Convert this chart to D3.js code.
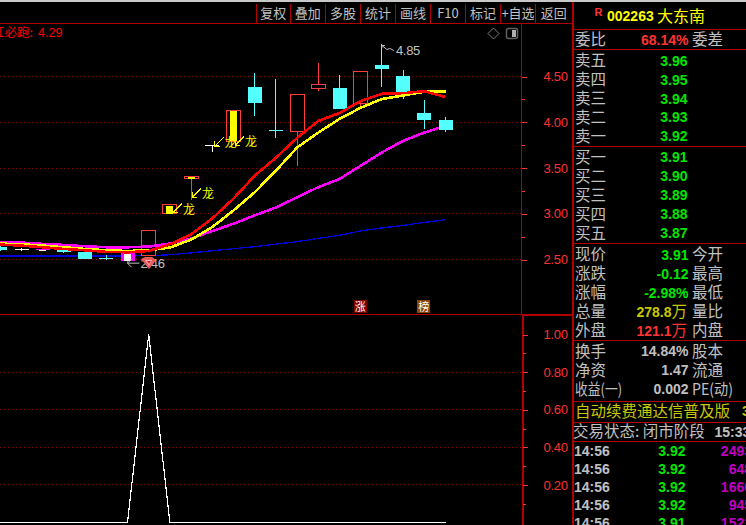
<!DOCTYPE html>
<html>
<head>
<meta charset="utf-8">
<script src="https://cdn.jsdelivr.net/npm/d3@7"></script>
<style>
html, body { margin: 0; padding: 0; background: #000; overflow: hidden; }
svg { display: block; }
text { font-family: "Noto Sans CJK SC", sans-serif; }
.num { font-family: "Liberation Sans", sans-serif; }
</style>
</head>
<body>
<div id="chart"></div>
<script>
var width = 746;
var height = 525;

// candles
var opens  = [2.64,2.61,2.61,2.61,2.58,2.52,2.57,2.54,3.00,3.38,3.75,3.79,4.38,3.92,3.90,4.37,4.37,4.20,4.63,4.51,4.10,4.03];
var closes = [2.60,2.61,2.61,2.58,2.51,2.52,2.48,2.82,3.10,3.41,3.75,4.13,4.21,3.92,4.30,4.41,4.15,4.55,4.58,4.33,4.03,3.91];
var highs  = [2.65,2.63,2.61,2.61,2.58,2.55,2.57,2.82,3.10,3.41,3.75,4.13,4.54,4.47,4.30,4.65,4.52,4.55,4.85,4.57,4.24,4.06];
var lows   = [2.59,2.59,2.61,2.57,2.51,2.50,2.46,2.54,3.00,3.15,3.68,3.79,4.07,3.83,3.52,4.34,4.14,4.15,4.39,4.25,3.93,3.89];
var kinds  = ["down","white","signalDown","down","down","down","signalDown","up","signalUp","signalUp","white","signalUp","down","down","up","up","down","up","down","down","down","down"];

// moving averages
var maRed     = [2.663,2.652,2.634,2.615,2.601,2.583,2.579,2.593,2.666,2.775,2.949,3.166,3.416,3.612,3.829,4.014,4.101,4.232,4.311,4.318,4.340,4.275];
var maYellow  = [2.674,2.666,2.652,2.634,2.615,2.601,2.593,2.601,2.630,2.717,2.854,3.036,3.235,3.470,3.724,3.887,4.036,4.159,4.253,4.293,4.333,4.333];
var maMagenta = [2.688,2.685,2.670,2.659,2.645,2.634,2.634,2.641,2.674,2.728,2.811,2.891,2.982,3.068,3.180,3.290,3.380,3.525,3.670,3.797,3.887,3.960];
var maBlue    = [2.539,2.539,2.539,2.539,2.539,2.539,2.539,2.541,2.552,2.572,2.596,2.618,2.640,2.668,2.695,2.731,2.764,2.813,2.845,2.873,2.905,2.935];

// lower indicator
var signal = [0,0,0,0,0,0,0,1,0,0,0,0,0,0,0,0,0,0,0,0,0,0];

var priceTicks = [2.5,3.0,3.5,4.0,4.5];
var priceMinor = [2.75,3.25,3.75,4.25];
var signalTicks = [0.2,0.4,0.6,0.8,1.0];
var signalMinor = [0.1,0.3,0.5,0.7,0.9];
var signalGrid = [0.2,0.4,0.6,0.8];

var toolLabels = ["复权","叠加","多股","统计","画线","F10","标记","+自选","返回"];
var toolEdges = [256.5,290,325.5,360.5,395.5,430.5,465.5,500.5,535.5,572];

var askLabels = ["卖五","卖四","卖三","卖二","卖一"];
var askPrices = ["3.96","3.95","3.94","3.93","3.92"];
var bidLabels = ["买一","买二","买三","买四","买五"];
var bidPrices = ["3.91","3.90","3.89","3.88","3.87"];
var quoteLabels = ["现价","涨跌","涨幅","总量","外盘"];
var quoteValues = ["3.91","-0.12","-2.98%","278.8","121.1"];
var quoteRight = ["今开","最高","最低","量比","内盘"];
var statLabels = ["换手","净资","收益(一)"];
var statValues = ["14.84%","1.47","0.002"];
var statRight = ["股本","流通","PE(动)"];
var tickTimes = ["14:56","14:56","14:56","14:56","14:56"];
var tickPrices = ["3.92","3.92","3.92","3.92","3.91"];
var tickVols = ["2493","648","1660","945","1521"];

var RED = "#ff3232";
var LINE = "#b00000";
var GREY = "#c0c0c0";
var GREEN = "#00e600";

var svg = d3.select("#chart").append("svg")
  .attr("width", width)
  .attr("height", height)
  .style("background", "#000");

var xScale = d3.scaleLinear().domain([0, 21]).range([0.3, 445.5]);
var yPrice = d3.scaleLinear().domain([2.5, 4.5]).range([259.5, 76.5]);
var ySignal = d3.scaleLinear().domain([0, 1]).range([522.5, 334.5]);

var crisp = svg.append("g").attr("shape-rendering", "crispEdges");

// frame
function hline(x1, x2, y, w, c) {
  crisp.append("line").attr("x1", x1).attr("x2", x2).attr("y1", y).attr("y2", y)
    .attr("stroke", c || LINE).attr("stroke-width", w || 1);
}
function vline(x, y1, y2, w, c) {
  crisp.append("line").attr("x1", x).attr("x2", x).attr("y1", y1).attr("y2", y2)
    .attr("stroke", c || LINE).attr("stroke-width", w || 1);
}
crisp.append("rect").attr("width", width).attr("height", 2).attr("fill", "#c8c8c8");
hline(0, 573, 23.5);
hline(0, 522, 314.5);
hline(522, 573, 314.5, 2);
vline(521.5, 23, 314);
vline(522.5, 314, 525, 2);
vline(573, 2, 525, 2);
[29.5, 49.5, 146.5, 243.5, 340.5, 401.5, 422.5, 441.5].forEach(function(y) {
  hline(573, 746, y);
});

// toolbar
toolEdges.forEach(function(x) { vline(x, 4, 23); });
svg.append("g").selectAll("text").data(toolLabels).join("text")
  .attr("x", (d, i) => (toolEdges[i] + toolEdges[i + 1]) / 2)
  .attr("y", 18)
  .attr("text-anchor", "middle")
  .attr("font-size", 13)
  .attr("fill", GREY)
  .text(d => d);

// grid
crisp.append("g").selectAll("line").data(priceTicks).join("line")
  .attr("x1", 0).attr("x2", 521)
  .attr("y1", d => yPrice(d)).attr("y2", d => yPrice(d))
  .attr("stroke", "#900000").attr("stroke-dasharray", "1 3");
crisp.append("g").selectAll("line").data(signalGrid).join("line")
  .attr("x1", 0).attr("x2", 522)
  .attr("y1", d => ySignal(d)).attr("y2", d => ySignal(d))
  .attr("stroke", "#900000").attr("stroke-dasharray", "1 3");

// axes
function drawAxis(scale, ticks, minor, x, pad) {
  var major = svg.append("g")
    .attr("transform", "translate(" + x + ",0)")
    .call(d3.axisRight(scale).tickValues(ticks).tickSize(5).tickPadding(pad).tickFormat(d3.format(".2f")));
  major.select(".domain").remove();
  major.selectAll("line").attr("stroke", RED).attr("shape-rendering", "crispEdges");
  major.selectAll("text").attr("class", "num").attr("fill", RED).attr("font-size", 13)
    .style("font-family", '"Liberation Sans", sans-serif')
    .attr("letter-spacing", "-0.3");
  var small = svg.append("g")
    .attr("transform", "translate(" + x + ",0)")
    .call(d3.axisRight(scale).tickValues(minor).tickSize(3).tickFormat(""));
  small.select(".domain").remove();
  small.selectAll("line").attr("stroke", RED).attr("shape-rendering", "crispEdges");
}
drawAxis(yPrice, priceTicks, priceMinor, 522, 16.5);
drawAxis(ySignal, signalTicks, signalMinor, 523, 15.5);

// lines under the candles
var lineGen = d3.line().x((d, i) => xScale(i)).y(d => yPrice(d));
crisp.append("path").attr("d", lineGen(maBlue)).attr("fill", "none").attr("stroke", "#0000d8").attr("stroke-width", 1.3);
crisp.append("path").attr("d", lineGen(maMagenta)).attr("fill", "none").attr("stroke", "#ff00ff").attr("stroke-width", 2.6);

// candles
var bars = d3.range(opens.length);
var wickColor = {down: "#54ffff", up: "#ff3c3c", signalUp: "#ff3c3c", signalDown: "#ff00ff", white: "#ffffff"};
var candles = crisp.append("g").selectAll("g").data(bars).join("g");
candles.append("line")
  .attr("x1", i => xScale(i)).attr("x2", i => xScale(i))
  .attr("y1", i => yPrice(highs[i]))
  .attr("y2", i => yPrice(Math.max(opens[i], closes[i])))
  .attr("stroke", i => wickColor[kinds[i]]);
candles.append("line")
  .attr("x1", i => xScale(i)).attr("x2", i => xScale(i))
  .attr("y1", i => yPrice(Math.min(opens[i], closes[i])))
  .attr("y2", i => yPrice(lows[i]))
  .attr("stroke", i => wickColor[kinds[i]]);
candles.append("rect")
  .attr("x", i => xScale(i) - 7)
  .attr("width", 14)
  .attr("y", i => yPrice(Math.max(opens[i], closes[i])))
  .attr("height", i => Math.max(1, Math.abs(yPrice(opens[i]) - yPrice(closes[i]))))
  .attr("fill", function(i) {
    if (kinds[i] == "down") return "#54ffff";
    if (kinds[i] == "signalDown") return "#ff00ff";
    if (kinds[i] == "white") return "#ffffff";
    return "none";
  })
  .attr("stroke", i => (kinds[i] == "up" || kinds[i] == "signalUp") ? "#ff3c3c" : "none");
candles.filter(i => kinds[i] == "signalUp" || kinds[i] == "signalDown").append("rect")
  .attr("x", i => xScale(i) - 3.5)
  .attr("width", 7)
  .attr("y", i => yPrice(Math.max(opens[i], closes[i])) + 1)
  .attr("height", i => Math.max(1, Math.abs(yPrice(opens[i]) - yPrice(closes[i])) - 1))
  .attr("fill", i => kinds[i] == "signalUp" ? "#ffff00" : "#ffffff");

// lines over the candles
crisp.append("path").attr("d", lineGen(maYellow)).attr("fill", "none").attr("stroke", "#ffff00").attr("stroke-width", 2.6);
crisp.append("path").attr("d", lineGen(maRed)).attr("fill", "none").attr("stroke", "#ff0000").attr("stroke-width", 2.6);

// lower line
crisp.append("path")
  .attr("d", d3.line().x((d, i) => xScale(i)).y(d => ySignal(d))(signal))
  .attr("fill", "none").attr("stroke", "#ffffff").attr("stroke-width", 1.2);

// 龙 marks
function arrow(x1, y1, x2, y2, c) {
  var g = svg.append("g").attr("stroke", c).attr("fill", "none").attr("shape-rendering", "crispEdges");
  g.append("line").attr("x1", x1).attr("y1", y1).attr("x2", x2).attr("y2", y2);
  g.append("path").attr("d", "M" + (x2 + 5) + "," + y2 + "L" + x2 + "," + y2 + "L" + x2 + "," + (y2 - 5));
}
var dragonSpots = [
  {bar: 9, dx: 1, dy: 21},
  {bar: 8, dx: 3, dy: 8},
  {bar: 10, dx: 2.5, dy: 1},
  {bar: 11, dx: 1.5, dy: 35}
];
dragonSpots.forEach(function(s) {
  var x0 = xScale(s.bar) + s.dx;
  var y0 = yPrice(highs[s.bar]) + s.dy;
  arrow(x0 + 9, y0 - 9, x0, y0, "#ffff00");
  svg.append("text").attr("x", x0 + 10).attr("y", y0 + 1)
    .attr("font-size", 12).attr("fill", "#ffff00").text("龙");
});

// high and low notes
var hiBar = 18, loBar = 6;
svg.append("path")
  .attr("d", "M" + xScale(hiBar) + "," + (yPrice(highs[hiBar]) + 4) + "l0,-3l3,0m-3,0l5,4l3,-1l4,2")
  .attr("fill", "none").attr("stroke", GREY);
svg.append("text").attr("class", "num").attr("x", xScale(hiBar) + 14).attr("y", yPrice(highs[hiBar]) + 11)
  .attr("font-size", 13).attr("fill", GREY).attr("letter-spacing", "-0.3").text(d3.format(".2f")(highs[hiBar]));
svg.append("path")
  .attr("d", "M" + xScale(loBar) + "," + yPrice(lows[loBar]) + "m4,-4l-4,4l4,4m-4,-4l12,0")
  .attr("fill", "none").attr("stroke", GREY);
svg.append("text").attr("class", "num").attr("x", xScale(loBar) + 13).attr("y", yPrice(lows[loBar]) + 5)
  .attr("font-size", 13).attr("fill", GREY).attr("letter-spacing", "-0.3").text(d3.format(".2f")(lows[loBar]));

// gem over the low note
var gem = svg.append("g").attr("transform", "translate(148,263)");
gem.append("path").attr("d", "M-7,-4L-3,-6L4,-6L8,-3L1,6Z").attr("fill", "#e85a5a");
gem.append("path").attr("d", "M-3,-3L4,-3L1,3Z").attr("fill", "#ffb0b0");
gem.append("path").attr("d", "M-1,-2L3,-2L1,1Z").attr("fill", "#d02020");

// title at top left
svg.append("text").attr("x", -8).attr("y", 37).attr("font-size", 12.5).attr("fill", "#ff0000").text("红必跑:");
svg.append("text").attr("class", "num").attr("x", 38).attr("y", 37).attr("font-size", 12.5).attr("fill", "#ff0000").text("4.29");

// small icons
svg.append("path").attr("d", "M493.5,28L499,33.5L493.5,39L488,33.5Z").attr("fill", "none").attr("stroke", "#808080");
svg.append("rect").attr("x", 506.5).attr("y", 28.5).attr("width", 11).attr("height", 10).attr("rx", 2)
  .attr("fill", "none").attr("stroke", "#606060").attr("stroke-width", 1.5);
svg.append("rect").attr("x", 512).attr("y", 30).attr("width", 4).attr("height", 7).attr("fill", "#b0b0b0");

// badges
function badge(bar, label, c) {
  var x = xScale(bar);
  crisp.append("rect").attr("x", x - 7).attr("y", 300).attr("width", 13).attr("height", 13).attr("fill", c);
  svg.append("text").attr("x", x - 0.5).attr("y", 310.5).attr("text-anchor", "middle")
    .attr("font-size", 11).attr("fill", "#fff").text(label);
}
badge(17, "涨", "#800000");
badge(20, "榜", "#8b4500");

// right panel
function label(x, y, s, c, size, anchor) {
  return svg.append("text").attr("x", x).attr("y", y + 5.5).attr("font-size", size || 15.5)
    .attr("fill", c || GREY).attr("text-anchor", anchor || "start").text(s);
}
function num(x, y, s, c, anchor) {
  return svg.append("text").attr("class", "num").attr("x", x).attr("y", y + 5)
    .attr("font-size", 14).attr("font-weight", "bold").attr("fill", c)
    .attr("text-anchor", anchor || "end").text(s);
}

svg.append("text").attr("class", "num").attr("x", 594.5).attr("y", 16).attr("font-size", 11).attr("font-weight", "bold").attr("fill", RED).text("R");
num(607, 16, "002263", "#ffff00", "start");
label(657, 16, "大东南", "#ffff00", 16);

label(575, 39.5, "委比");
num(688.5, 39.5, "68.14%", RED);
label(692, 39.5, "委差");

var askY = [60.5, 79.5, 98.5, 117, 136];
askLabels.forEach(function(s, i) {
  label(575, askY[i], s);
  num(687.5, askY[i], askPrices[i], GREEN);
});
var bidY = [157, 176, 195, 214, 233];
bidLabels.forEach(function(s, i) {
  label(575, bidY[i], s);
  num(687.5, bidY[i], bidPrices[i], GREEN);
});
var quoteY = [254.5, 273.5, 292.5, 311.5, 330.5];
var quoteColor = [GREEN, GREEN, GREEN, "#c8c800", RED];
quoteLabels.forEach(function(s, i) {
  label(575, quoteY[i], s);
  var right = i >= 3 ? 671.5 : 688.5;
  num(right, quoteY[i], quoteValues[i], quoteColor[i]);
  if (i >= 3) label(671.5, quoteY[i], "万", quoteColor[i]);
  label(692, quoteY[i], quoteRight[i]);
});
var statY = [351, 370, 389];
statLabels.forEach(function(s, i) {
  if (i < 2) label(575, statY[i], s);
  num(688.5, statY[i], statValues[i], GREY);
  if (i < 2) label(692, statY[i], statRight[i]);
});
label(575, statY[2], statLabels[2]).attr("textLength", 47).attr("lengthAdjust", "spacingAndGlyphs");
label(692, statY[2], statRight[2]).attr("textLength", 41).attr("lengthAdjust", "spacingAndGlyphs");

label(575, 411, "自动续费通达信普及版", "#c8c800");
num(742, 411, "3", "#c8c800", "start");
label(573, 431.5, "交易状态: 闭市阶段");
num(714.5, 431.5, "15:33", GREY, "start");

var tickY = [451, 469, 487, 505, 523];
tickTimes.forEach(function(s, i) {
  num(574, tickY[i], s, GREY, "start");
  num(685.5, tickY[i], tickPrices[i], GREEN);
  num(752, tickY[i], tickVols[i], "#c000c0");
});
</script>
</body>
</html>
